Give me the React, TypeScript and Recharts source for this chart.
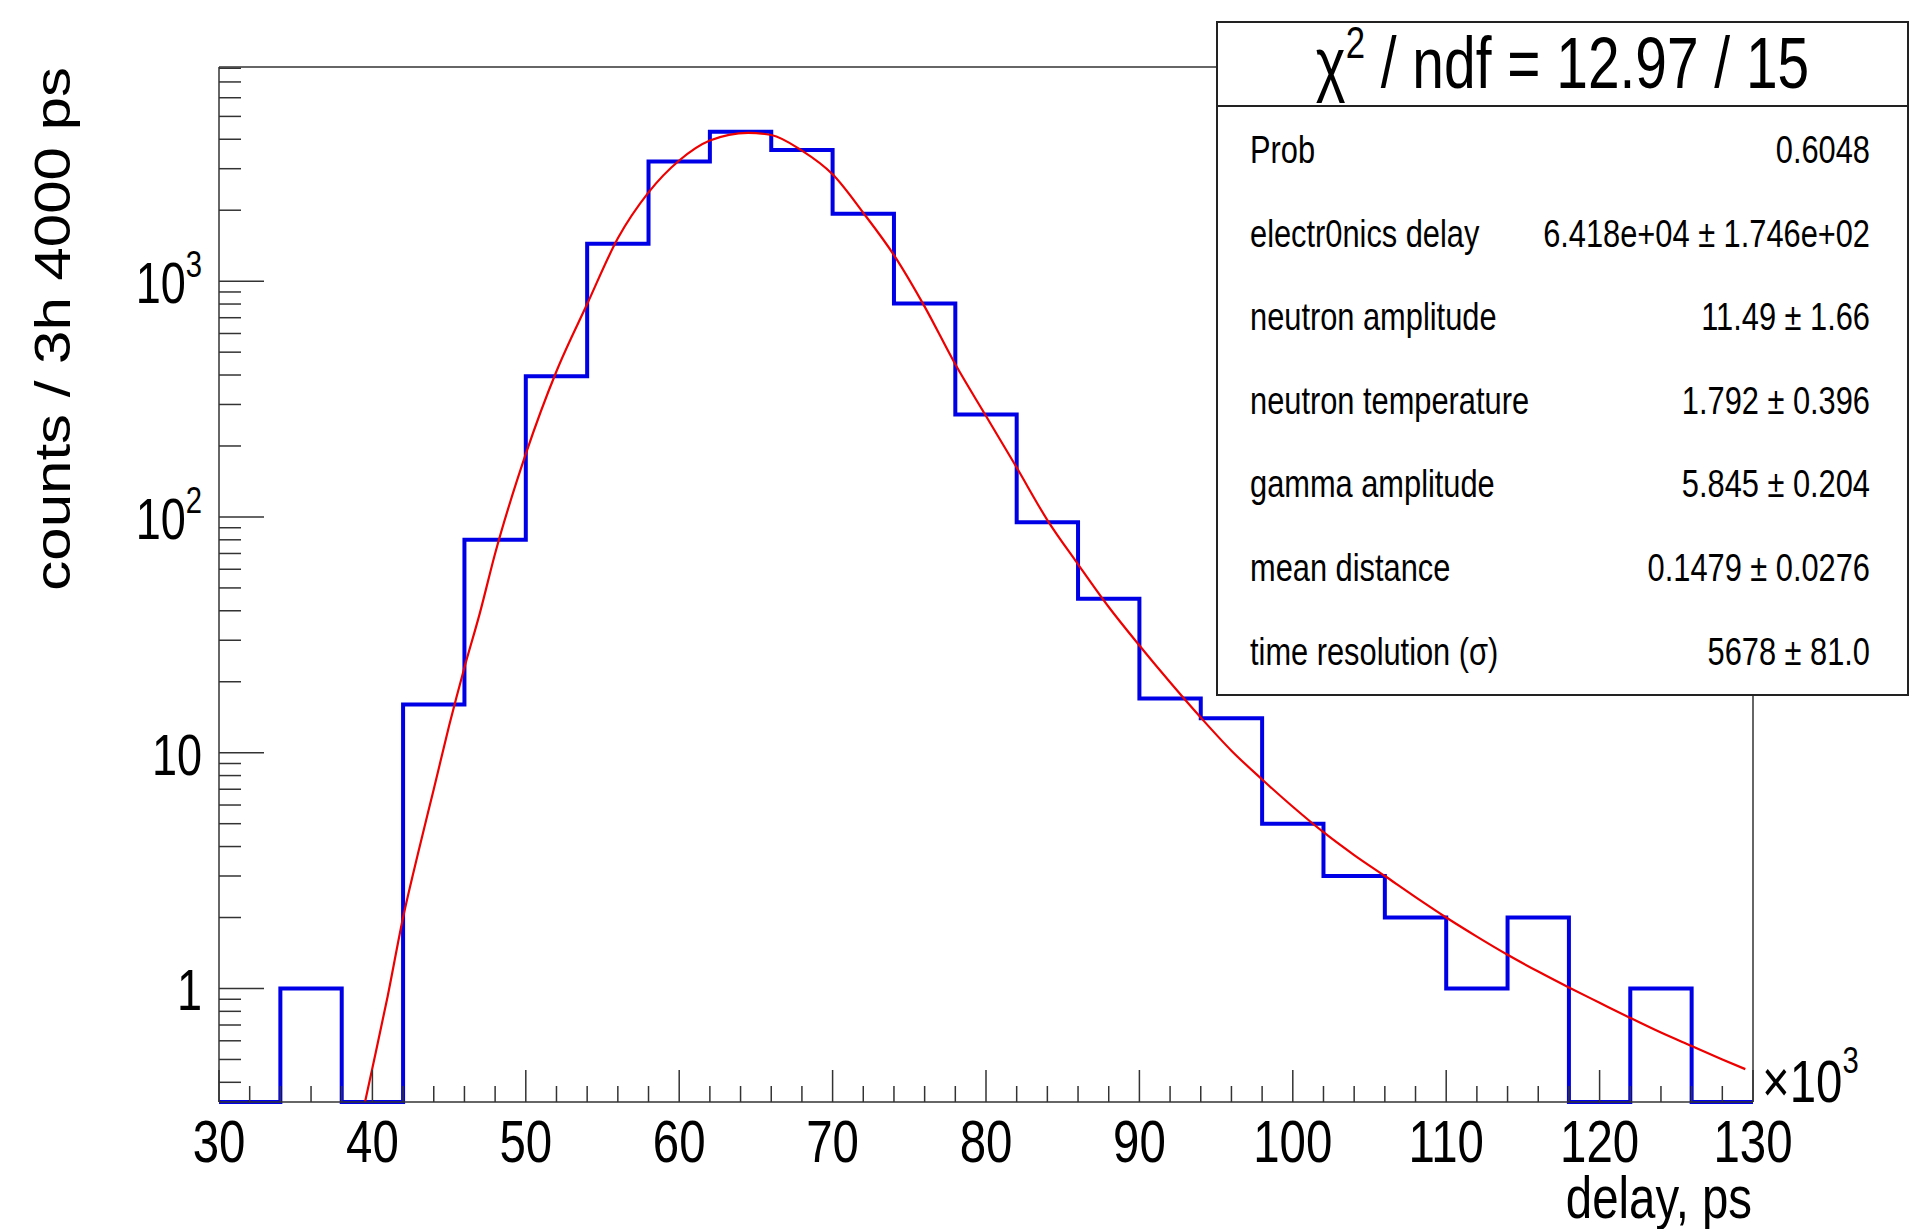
import { LineChart, Line, XAxis, YAxis, ReferenceLine } from 'recharts';

// histogram: lower bin edges (x10^3 ps) and counts per bin
const binLow = [30, 34, 38, 42, 46, 50, 54, 58, 62, 66, 70, 74, 78, 82, 86, 90, 94, 98, 102, 106, 110, 114, 118, 122, 126];
const binCounts = [0, 1, 0, 16, 80, 395, 1440, 3220, 4300, 3600, 1930, 805, 272, 95, 45, 17, 14, 5, 3, 2, 1, 2, 0, 1, 0];
const binHigh = 130;

// fit curve
const fitX = [39.52, 40, 41, 42, 43, 44, 45, 46, 47, 48, 50, 52, 54, 56, 58, 60, 62, 64.5, 66, 68, 70, 72, 74, 76, 78, 80, 82, 84, 86, 88, 90, 92, 94, 96, 98, 100, 102, 104, 106, 108, 110, 112, 114, 116, 118, 120, 122, 124, 126, 128, 129.5];
const fitY = [0.33, 0.46, 0.93, 2.0, 3.8, 7.0, 13, 23, 39, 70, 185, 415, 800, 1520, 2380, 3250, 3950, 4260, 4170, 3580, 2840, 1950, 1290, 780, 444, 268, 162, 97, 63, 41.5, 28.5, 19.9, 14.1, 10.2, 7.7, 5.9, 4.6, 3.68, 3.0, 2.44, 2.0, 1.66, 1.39, 1.18, 1.01, 0.87, 0.75, 0.65, 0.57, 0.5, 0.455];

const xMajor = [30, 40, 50, 60, 70, 80, 90, 100, 110, 120, 130];
const yMajor = [1, 10, 100, 1000];
const yMinor = [0.4, 0.5, 0.6, 0.7, 0.8, 0.9, 2, 3, 4, 5, 6, 7, 8, 9, 20, 30, 40, 50, 60, 70, 80, 90, 200, 300, 400, 500, 600, 700, 800, 900, 2000, 3000, 4000, 5000, 6000, 7000, 8000];

const statLabels = ['Prob', 'electr0nics delay', 'neutron amplitude', 'neutron temperature', 'gamma amplitude', 'mean distance', 'time resolution (σ)'];
const statValues = ['0.6048', '6.418e+04 ± 1.746e+02', '11.49 ± 1.66', '1.792 ± 0.396', '5.845 ± 0.204', '0.1479 ± 0.0276', '5678 ± 81.0'];

const Y_MIN = 0.33;
const Y_MAX = 8100;
const FONT = '"Liberation Sans", Arial, Helvetica, sans-serif';
const NARROW = 0.79;
const AXIS = '#333';

// ticks every 2 units between the labelled ones
const xTicks: number[] = [];
for (let v = 30; v <= 130; v += 2) xTicks.push(v);

// zero bins sit on the floor of the log axis
const histData = binLow.map((x, i) => ({ x, y: Math.max(binCounts[i], Y_MIN) }));
histData.push({ x: binHigh, y: Math.max(binCounts[binCounts.length - 1], Y_MIN) });

const fitData = fitX.map((x, i) => ({ x, y: fitY[i] }));

const NText = ({ x, y, size, anchor = 'start', children }: any) => (
  <g transform={`translate(${x},${y}) scale(${NARROW},1)`}>
    <text x={0} y={0} fontSize={size} textAnchor={anchor} fontFamily={FONT} fill="#000">
      {children}
    </text>
  </g>
);

const XTick = ({ x, y, payload }: any) => {
  const v = payload.value;
  const major = xMajor.includes(v);
  return (
    <g>
      <line x1={x} x2={x} y1={y} y2={y - (major ? 32 : 16)} stroke={AXIS} strokeWidth={1.5} />
      {major && <NText x={x} y={y + 60} size={60} anchor="middle">{v}</NText>}
    </g>
  );
};

const YTick = ({ x, y, payload }: any) => {
  const v = payload.value;
  const major = yMajor.includes(v);
  let label: any = null;
  if (v === 1 || v === 10) label = String(v);
  if (v === 100 || v === 1000) {
    label = (
      <>
        10<tspan dy={-26} fontSize={37}>{v === 100 ? '2' : '3'}</tspan>
      </>
    );
  }
  return (
    <g>
      <line x1={x} x2={x + (major ? 45 : 22)} y1={y} y2={y} stroke={AXIS} strokeWidth={1.5} />
      {major && <NText x={x - 17} y={y + 22} size={57} anchor="end">{label}</NText>}
    </g>
  );
};

const StatsBox = () => {
  const left = 1217;
  const right = 1908;
  const top = 22;
  const bottom = 695;
  const sep = 106;
  return (
    <g>
      <rect x={left} y={top} width={right - left} height={bottom - top} fill="#fff" stroke="#222" strokeWidth={2} />
      <line x1={left} x2={right} y1={sep} y2={sep} stroke="#222" strokeWidth={2} />
      <NText x={(left + right) / 2} y={88} size={72} anchor="middle">
        χ<tspan dy={-30} fontSize={44}>2</tspan>
        <tspan dy={30}> / ndf = 12.97 / 15</tspan>
      </NText>
      {statLabels.map((s, i) => (
        <g key={s}>
          <NText x={1250} y={163 + i * 83.6} size={39}>{s}</NText>
          <NText x={1870} y={163 + i * 83.6} size={39} anchor="end">{statValues[i]}</NText>
        </g>
      ))}
    </g>
  );
};

export default function App() {
  return (
    <div style={{ position: 'absolute', left: 0, top: 0, width: 1918, height: 1229, background: '#fff' }}>
      <LineChart width={1918} height={1229} margin={{ top: 67, right: 165, bottom: 0, left: 0 }}>
        <XAxis
          type="number"
          dataKey="x"
          domain={[30, 130]}
          ticks={xTicks}
          interval={0}
          height={127}
          tickSize={0}
          tickMargin={0}
          tickLine={false}
          tick={<XTick />}
          axisLine={{ stroke: AXIS, strokeWidth: 1.5 }}
        />
        <YAxis
          type="number"
          dataKey="y"
          scale="log"
          domain={[Y_MIN, Y_MAX]}
          ticks={[...yMajor, ...yMinor]}
          interval={0}
          width={219}
          tickSize={0}
          tickMargin={0}
          tickLine={false}
          tick={<YTick />}
          axisLine={{ stroke: AXIS, strokeWidth: 1.5 }}
        />
        <ReferenceLine y={Y_MAX} stroke={AXIS} strokeWidth={1.5} />
        <ReferenceLine x={130} stroke={AXIS} strokeWidth={1.5} />
        <Line
          data={histData}
          dataKey="y"
          type="stepAfter"
          stroke="#0000e6"
          strokeWidth={4}
          dot={false}
          activeDot={false}
          isAnimationActive={false}
        />
        <Line
          data={fitData}
          dataKey="y"
          type="monotone"
          stroke="#ee0000"
          strokeWidth={2.2}
          dot={false}
          activeDot={false}
          isAnimationActive={false}
        />
      </LineChart>
      <svg width={1918} height={1229} style={{ position: 'absolute', left: 0, top: 0, pointerEvents: 'none' }}>
        <StatsBox />
        <g transform="translate(70,67) scale(0.82,1) rotate(-90)">
          <text x={0} y={0} fontSize={60} textAnchor="end" fontFamily={FONT} fill="#000">
            counts / 3h 4000 ps
          </text>
        </g>
        <NText x={1762} y={1102} size={60}>
          ×10<tspan dy={-29} fontSize={37}>3</tspan>
        </NText>
        <NText x={1752} y={1218} size={60} anchor="end">delay, ps</NText>
      </svg>
    </div>
  );
}
